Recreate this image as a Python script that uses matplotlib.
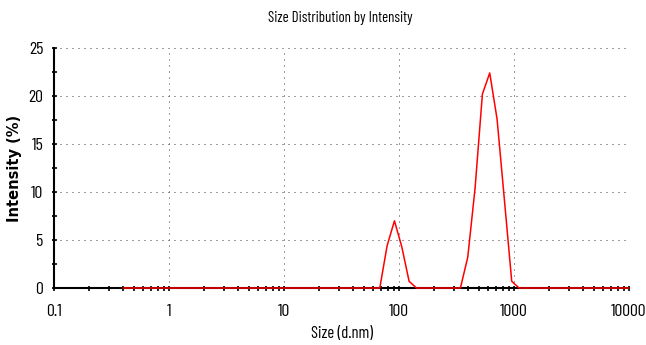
import numpy as np
import matplotlib
matplotlib.use("Agg")
import matplotlib.pyplot as plt
from matplotlib.ticker import LogLocator, FixedLocator, NullFormatter

# Size classes (d.nm) and intensity (%)
size_nm = [0.4, 58.77, 68.06, 78.82, 91.28, 105.7, 122.4, 141.8,
           295.3, 342.0, 396.1, 458.7, 531.2, 615.1, 712.4, 825.0, 955.4, 1106, 10000]
intensity = [0, 0, 0, 4.4, 7.0, 4.3, 0.7, 0,
             0, 0, 3.2, 10.4, 20.2, 22.4, 17.6, 9.2, 0.7, 0, 0]

x_ticks = [0.1, 1, 10, 100, 1000, 10000]
x_ticklabels = ["0.1", "1", "10", "100", "1000", "10000"]
y_ticks = [0, 5, 10, 15, 20, 25]

narrow = ["Barlow Condensed", "DejaVu Sans"]

fig = plt.figure(figsize=(6.46, 3.45), dpi=100)
ax = fig.add_axes([54 / 646, 1 - 288 / 345, 575 / 646, 240 / 345])

ax.plot(size_nm, intensity, color="#ff0000", lw=1.1, zorder=3, clip_on=False)

ax.set_xscale("log")
ax.set_xlim(0.1, 10000)
ax.set_ylim(0, 25)

ax.xaxis.set_major_locator(FixedLocator(x_ticks))
ax.set_xticklabels(x_ticklabels)
ax.xaxis.set_minor_locator(LogLocator(base=10, subs=np.arange(2, 10), numticks=20))
ax.xaxis.set_minor_formatter(NullFormatter())
ax.set_yticks(y_ticks)
ax.set_yticks([2.5, 7.5, 12.5, 17.5, 22.5], minor=True)

ax.tick_params(which="both", direction="inout", length=3.6, width=1.2, color="black")
ax.tick_params(axis="x", which="major", pad=9.5)
ax.tick_params(axis="y", which="major", pad=6)
for lab in ax.get_xticklabels() + ax.get_yticklabels():
    lab.set_family(narrow)
    lab.set_fontsize(12.8)

ax.grid(True, which="major", color="#404040", lw=0.72, linestyle=(0, (1, 5)))
ax.spines["top"].set_visible(False)
ax.spines["right"].set_visible(False)
ax.spines["left"].set_linewidth(1.5)
ax.spines["bottom"].set_linewidth(1.5)

fig.text(340 / 646, 1 - 18 / 345, "Size Distribution by Intensity", family=narrow,
         fontsize=10.7, ha="center", va="center")
fig.text(342 / 646, 1 - 334 / 345, "Size (d.nm)", family=narrow,
         fontsize=12, ha="center", va="center")
fig.text(15 / 646, 1 - 168 / 345, "Intensity (%)", fontsize=10.5, fontweight="bold",
         rotation=90, ha="center", va="center")

fig.savefig("out.png", dpi=100)
